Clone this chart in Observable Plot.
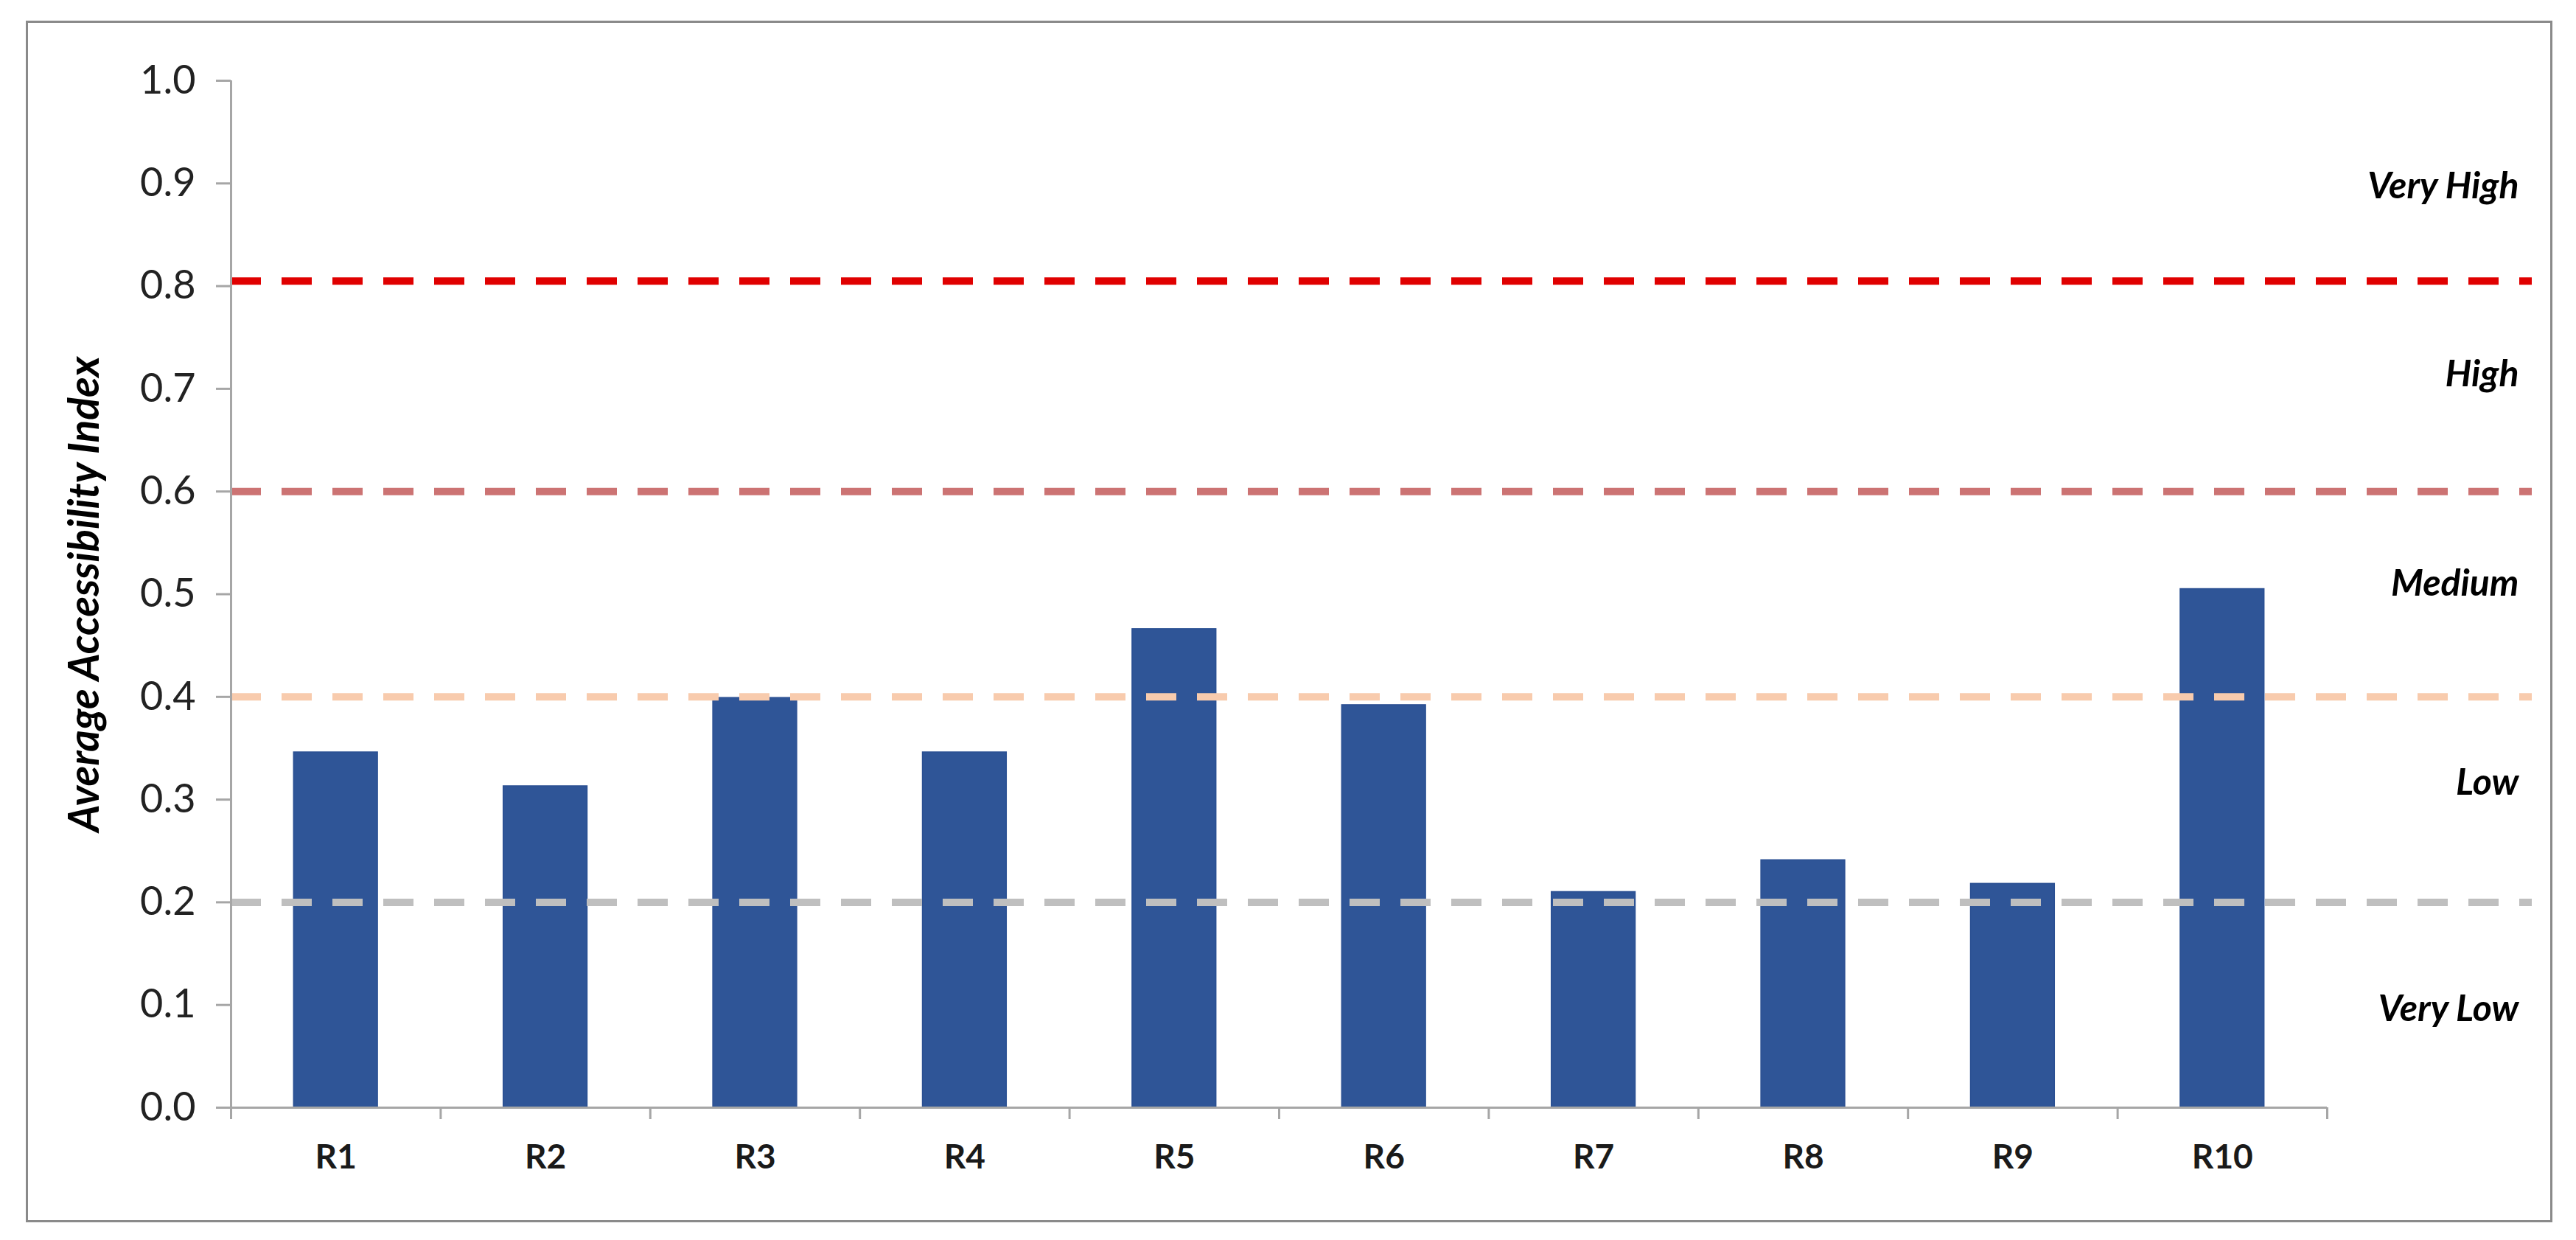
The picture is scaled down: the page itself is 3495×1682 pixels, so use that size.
<!DOCTYPE html>
<html>
<head>
<meta charset="utf-8">
<script src="https://cdn.jsdelivr.net/npm/d3@7"></script>
<script src="https://cdn.jsdelivr.net/npm/@observablehq/plot@0.6"></script>
<style>
  html, body { margin: 0; padding: 0; background: #ffffff; }
  #wrap { position: relative; width: 3495px; height: 1682px; }
  #border { position: absolute; left: 35px; top: 28px; width: 3428px; height: 1630px;
            border: 3px solid #8a8a8a; box-sizing: border-box; pointer-events: none; }
</style>
</head>
<body>
<div id="wrap"><div id="border"></div></div>
<script>
// ---- data ----
const categories = ["R1", "R2", "R3", "R4", "R5", "R6", "R7", "R8", "R9", "R10"];
const values = [0.346, 0.313, 0.399, 0.346, 0.466, 0.392, 0.210, 0.241, 0.218, 0.505];
const yTicks = [0.0, 0.1, 0.2, 0.3, 0.4, 0.5, 0.6, 0.7, 0.8, 0.9, 1.0];
const thresholds = [0.2, 0.4, 0.6, 0.805];
const zoneLabels = ["Very Low", "Low", "Medium", "High", "Very High"];
const zoneLabelY = [0.096, 0.316, 0.510, 0.714, 0.897];
const yLabel = "Average Accessibility Index";

// ---- styles ----
const THRESHOLD_COLORS = ["#BFBFBF", "#F8CBAD", "#CC7373", "#E00000"];
const BAR_COLOR = "#2F5597";
const AXIS_COLOR = "#A6A6A6";
const FONT = "Lato, 'Open Sans', sans-serif";

const n = categories.length;
const bars = categories.map((c, i) => ({c, i, v: values[i]}));

const chart = Plot.plot({
  width: 3495,
  height: 1682,
  marginLeft: 313,
  marginRight: 60,
  marginTop: 109,
  marginBottom: 180,
  style: {fontFamily: FONT, background: "transparent", overflow: "visible"},
  x: {type: "linear", domain: [0, n], range: [313, 3157], axis: null},
  y: {domain: [0, 1], axis: null},
  marks: [
    Plot.rectY(bars, {
      x1: d => d.i + 0.3, x2: d => d.i + 0.7, y1: 0, y2: "v",
      fill: BAR_COLOR, stroke: "#2A4F92", strokeWidth: 1.5
    }),
    ...thresholds.map((t, i) => Plot.ruleY([t], {
      stroke: THRESHOLD_COLORS[i], strokeWidth: 10, strokeDasharray: "41,28"
    })),
    // axes lines
    Plot.ruleX([0], {y1: 0, y2: 1, stroke: AXIS_COLOR, strokeWidth: 3}),
    Plot.ruleY([0], {x1: 0, x2: n, stroke: AXIS_COLOR, strokeWidth: 3}),
    Plot.axisY(yTicks, {
      anchor: "left", tickSize: 20, tickPadding: 28, tickFormat: d3.format(".1f"),
      fontSize: 54, stroke: AXIS_COLOR, strokeWidth: 3, fill: "#222", label: null
    }),
    Plot.axisX(d3.range(n + 1), {
      anchor: "bottom", tickSize: 16, tickFormat: () => "", stroke: AXIS_COLOR,
      strokeWidth: 3, label: null
    }),
    Plot.text(bars, {
      x: d => d.i + 0.5, y: 0, text: "c", dy: 68,
      fontSize: 46, fontWeight: "bold", fill: "#1a1a1a"
    }),
    Plot.text(zoneLabels, {
      y: (d, i) => zoneLabelY[i], frameAnchor: "right", textAnchor: "end", dx: -18,
      fontSize: 50, fontWeight: "bold", fontStyle: "italic", fill: "#000"
    }),
    Plot.text([yLabel], {
      frameAnchor: "left", textAnchor: "middle", rotate: -90, dx: -198,
      fontSize: 57, fontWeight: "bold", fontStyle: "italic", fill: "#000"
    })
  ]
});
document.getElementById("wrap").prepend(chart);
</script>
</body>
</html>
